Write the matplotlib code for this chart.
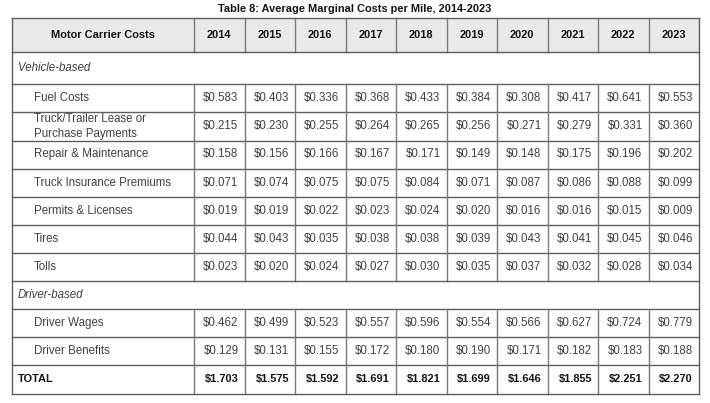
import matplotlib.pyplot as plt
from matplotlib.patches import Rectangle

plt.rcParams['font.family'] = ['Liberation Sans', 'DejaVu Sans']

title = "Table 8: Average Marginal Costs per Mile, 2014-2023"
first_header = "Motor Carrier Costs"
years = ["2014", "2015", "2016", "2017", "2018", "2019", "2020", "2021", "2022", "2023"]

vehicle_label = "Vehicle-based"
driver_label = "Driver-based"
fuel = [0.583, 0.403, 0.336, 0.368, 0.433, 0.384, 0.308, 0.417, 0.641, 0.553]
lease = [0.215, 0.230, 0.255, 0.264, 0.265, 0.256, 0.271, 0.279, 0.331, 0.360]
repair = [0.158, 0.156, 0.166, 0.167, 0.171, 0.149, 0.148, 0.175, 0.196, 0.202]
insurance = [0.071, 0.074, 0.075, 0.075, 0.084, 0.071, 0.087, 0.086, 0.088, 0.099]
permits = [0.019, 0.019, 0.022, 0.023, 0.024, 0.020, 0.016, 0.016, 0.015, 0.009]
tires = [0.044, 0.043, 0.035, 0.038, 0.038, 0.039, 0.043, 0.041, 0.045, 0.046]
tolls = [0.023, 0.020, 0.024, 0.027, 0.030, 0.035, 0.037, 0.032, 0.028, 0.034]
wages = [0.462, 0.499, 0.523, 0.557, 0.596, 0.554, 0.566, 0.627, 0.724, 0.779]
benefits = [0.129, 0.131, 0.155, 0.172, 0.180, 0.190, 0.171, 0.182, 0.183, 0.188]
total = [1.703, 1.575, 1.592, 1.691, 1.821, 1.699, 1.646, 1.855, 2.251, 2.270]

rows = [
    ("section", vehicle_label, None),
    ("item", "Fuel Costs", fuel),
    ("item", "Truck/Trailer Lease or\nPurchase Payments", lease),
    ("item", "Repair & Maintenance", repair),
    ("item", "Truck Insurance Premiums", insurance),
    ("item", "Permits & Licenses", permits),
    ("item", "Tires", tires),
    ("item", "Tolls", tolls),
    ("section", driver_label, None),
    ("item", "Driver Wages", wages),
    ("item", "Driver Benefits", benefits),
    ("total", "TOTAL", total),
]

# layout (pixel units)
W, H = 710, 403
x_left, x_first, x_right = 12, 194, 699
y_head_top, y_head_bot = 18, 52
row_edges = [52, 84, 112, 140.5, 168.5, 197, 225, 253, 281, 309, 337, 365, 393.5]
col_w = (x_right - x_first) / len(years)
col_edges = [x_first + i * col_w for i in range(len(years) + 1)]
h_line = '#5e5e5e'
v_line = '#7a7a7a'
text_c = '#404040'
dark = '#141414'
fs = 8.3
fs_b = 7.9

fig = plt.figure(figsize=(W / 100, H / 100), dpi=100)
ax = fig.add_axes([0, 0, 1, 1])
ax.set_xlim(0, W)
ax.set_ylim(H, 0)
ax.axis('off')

ax.text(W / 2, 9, title, ha='center', va='center', fontsize=7.9,
        fontweight='bold', color=dark)

# header
ax.add_patch(Rectangle((x_left, y_head_top), x_right - x_left, y_head_bot - y_head_top,
                       facecolor='#e9e9e9', edgecolor='none'))
ax.text((x_left + x_first) / 2, (y_head_top + y_head_bot) / 2, first_header,
        ha='center', va='center', fontsize=fs_b, fontweight='bold', color=dark)
for i, yr in enumerate(years):
    ax.text((col_edges[i] + col_edges[i + 1]) / 2, (y_head_top + y_head_bot) / 2, yr,
            ha='center', va='center', fontsize=fs_b, fontweight='bold', color=dark)

for x in [x_first] + col_edges[1:-1]:
    ax.plot([x, x], [y_head_top, y_head_bot], color=v_line, lw=1.0)
ax.plot([x_left, x_right], [y_head_top, y_head_top], color=h_line, lw=1.0)

for r, (kind, label, vals) in enumerate(rows):
    y0, y1 = row_edges[r], row_edges[r + 1]
    yc = (y0 + y1) / 2
    ax.plot([x_left, x_right], [y0, y0], color=h_line, lw=1.0)
    if kind == "section":
        ax.text(x_left + 6, yc, label, ha='left', va='center', fontsize=fs,
                style='italic', color=text_c)
        continue
    bold = kind == "total"
    lx = x_left + 6 if bold else x_left + 22
    ax.text(lx, yc, label, ha='left', va='center', fontsize=fs_b if bold else fs,
            fontweight='bold' if bold else 'normal',
            color=dark if bold else text_c, linespacing=1.3)
    for x in [x_first] + col_edges[1:-1]:
        ax.plot([x, x], [y0, y1], color=v_line, lw=1.0)
    for i, v in enumerate(vals):
        ax.text(col_edges[i + 1] - 6, yc, "${:.3f}".format(v), ha='right', va='center',
                fontsize=fs_b if bold else fs, fontweight='bold' if bold else 'normal',
                color=dark if bold else text_c)

ax.plot([x_left, x_right], [row_edges[-1], row_edges[-1]], color=h_line, lw=1.0)
for x in [x_left, x_right]:
    ax.plot([x, x], [y_head_top, row_edges[-1]], color=h_line, lw=1.0)

fig.savefig('out.png', dpi=100)
